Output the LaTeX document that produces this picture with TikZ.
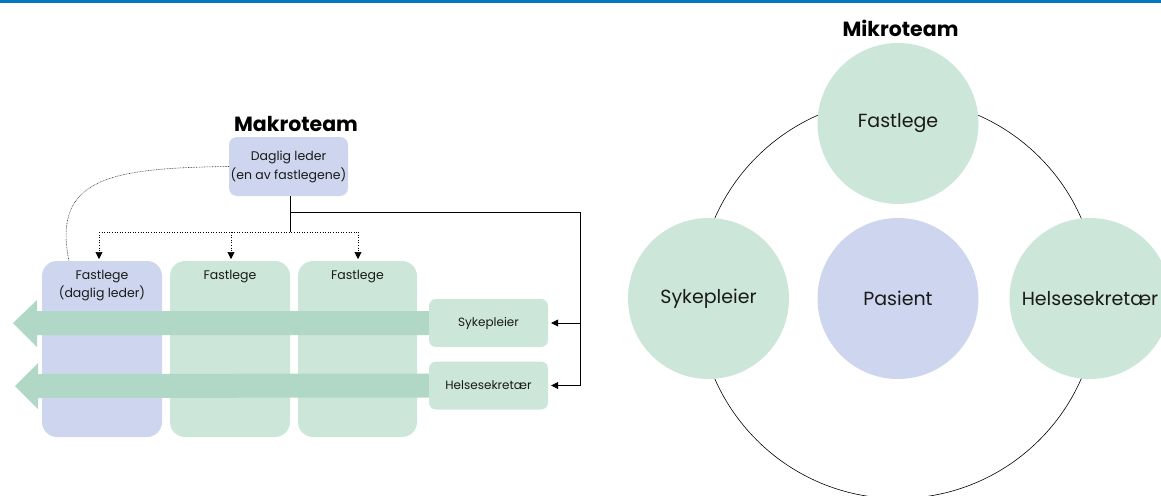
\documentclass[tikz,border=0pt]{standalone}
\usepackage{fontspec}
\setmainfont{Poppins}
\usetikzlibrary{arrows.meta,calc}
\definecolor{topbar}{HTML}{0077C0}
\definecolor{lblue}{HTML}{CDD6EE}
\definecolor{lgreen}{HTML}{CDE6DA}
\definecolor{agreen}{HTML}{B1D8C6}
\definecolor{txt}{HTML}{1A1A1A}
\tikzset{
  colbox/.style={rounded corners=15pt, minimum width=120pt, minimum height=176pt, inner sep=0pt},
  rolebox/.style={fill=lgreen, rounded corners=7pt, minimum width=119pt, minimum height=48pt, inner sep=0pt, text=txt, font=\fontsize{12}{14}\selectfont},
  circ/.style={circle, minimum size=161pt, inner sep=0pt, text=txt, font=\fontsize{19}{21}\selectfont},
  title/.style={font=\bfseries\fontsize{20.5}{22}\selectfont, text=black},
  coltext/.style={text=txt, font=\fontsize{12.5}{18}\selectfont, align=center, inner sep=0pt},
  conn/.style={draw=black, line width=0.6pt},
  tip/.style={-{Triangle[length=7pt,width=7pt]}},
  fatarrow/.style={fill=agreen, draw=none}
}
\begin{document}
\begin{tikzpicture}[x=1pt,y=-1pt]
\useasboundingbox (0,0) rectangle (1161,495);
\begin{scope}
\clip (0,0) rectangle (1161,495);
% top bar
\fill[topbar] (0,0) rectangle (1161,3);

% ---------- Makroteam ----------
\node[title] (makro) at (296,124) {Makroteam};
\node[fill=lblue, rounded corners=8pt, minimum width=119pt, minimum height=59pt, inner sep=0pt, text=txt, font=\fontsize{12.5}{19}\selectfont, align=center] (leder) at (288.5,166.5) {Daglig leder\\(en av fastlegene)};

\node[colbox, fill=lblue] (c1) at (102,349) {};
\node[colbox, fill=lgreen] (c2) at (230,349) {};
\node[colbox, fill=lgreen, minimum width=119pt] (c3) at (357.5,349) {};
\node[coltext, anchor=north] (t1) at ($(c1.north)+(0,9)$) {Fastlege\\(daglig leder)};
\node[coltext, anchor=north] (t2) at ($(c2.north)+(0,9)$) {Fastlege};
\node[coltext, anchor=north] (t3) at ($(c3.north)+(0,9)$) {Fastlege};

\node[rolebox] (syk) at (488.5,323) {Sykepleier};
\node[rolebox] (hel) at (488.5,385.5) {Helsesekretær};

% fat arrows
\fill[fatarrow] ($(syk.west)+(0,-12)$) -- ($(syk.west)+(0,12)$) -- (37,335) -- (37,347) -- (13,323) -- (37,300) -- (37,311) -- cycle;
\fill[fatarrow] ($(hel.west)+(0,-12)$) -- ($(hel.west)+(0,12)$) -- (38,398) -- (38,409) -- (15,386) -- (38,363) -- (38,374) -- cycle;

% connectors
\coordinate (j1) at (290,212);
\coordinate (j2) at (290,232);
\coordinate (rr) at (580,212);
\draw[conn] (leder.south -| j1) -- (j2);
\draw[conn] (j1) -- (rr) -- (rr |- hel.east);
\draw[conn, tip] (rr |- syk.east) -- ($(syk.east)+(3,0)$);
\draw[conn, tip] (rr |- hel.east) -- ($(hel.east)+(3,0)$);
\draw[conn, dotted] (99,232) -- (358,232);
\draw[conn, dotted, tip] (99,232) -- (99,259);
\draw[conn, dotted, tip] (231,232) -- (231,259);
\draw[conn, dotted, tip] (358,232) -- (358,259);
\draw[draw=black!75, line width=0.6pt, dash pattern=on 0.8pt off 0.8pt] (leder.west) .. controls (110,168) and (52,178) .. (69,261);

% ---------- Mikroteam ----------
\node[title] (mikro) at (900.5,28) {Mikroteam};
\node[draw=black, line width=0.6pt, circle, minimum size=400pt, inner sep=0pt] (ring) at (898,298.5) {};
\node[circ, fill=lgreen] (fl) at (898,123.5) {Fastlege};
\node[circ, fill=lgreen] (sp) at (708.5,298.5) {Sykepleier};
\node[circ, fill=lblue] (pa) at (898,298.5) {Pasient};
\node[circ, fill=lgreen] (hs) at (1090,298.5) {Helsesekretær};
\end{scope}
\end{tikzpicture}
\end{document}
